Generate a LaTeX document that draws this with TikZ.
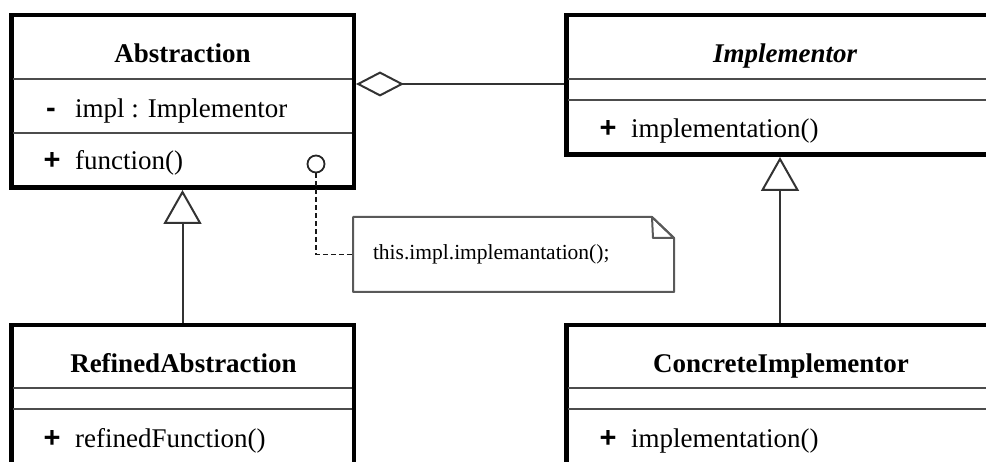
\documentclass[tikz,border=0pt]{standalone}
\usepackage{fontspec}
\setmainfont{Liberation Serif}
\setsansfont{Liberation Sans}
\usetikzlibrary{arrows.meta,positioning}

\begin{document}
\begin{tikzpicture}[
    x=1pt, y=-1pt,
    classbox/.style={rectangle, draw=black, line width=4.5pt, inner sep=0pt},
    divider/.style={draw=black!70, line width=2pt, shorten <=4pt, shorten >=4pt},
    title/.style={anchor=base, inner sep=0pt, font=\fontsize{27}{30}\selectfont\bfseries},
    member/.style={anchor=base west, inner sep=0pt, font=\fontsize{27}{30}\selectfont},
    sign/.style={anchor=base, inner sep=0pt, font=\fontsize{29}{30}\selectfont\sffamily\bfseries},
    link/.style={draw=black!80, line width=2pt},
    notebox/.style={draw=black!65, line width=2pt, line join=round},
    notelink/.style={draw=black!90, line width=1.8pt, dash pattern=on 5pt off 3pt}
]
    \useasboundingbox (0,0) rectangle (986,462);

    \node[classbox, minimum width=342.5pt, minimum height=172.5pt] (abstraction) at (182.5,101.5) {};
    \node[classbox, minimum width=427.5pt, minimum height=139.5pt] (implementor) at (780,85) {};
    \node[classbox, minimum width=342.5pt, minimum height=232.5pt] (refined) at (182.5,441.5) {};
    \node[classbox, minimum width=427.5pt, minimum height=232.5pt] (concrete) at (780,441.5) {};

    \draw[divider] ([shift={(0,66)}]abstraction.north west) -- ([shift={(0,66)}]abstraction.north east);
    \draw[divider] ([shift={(0,120)}]abstraction.north west) -- ([shift={(0,120)}]abstraction.north east);
    \draw[divider] ([shift={(0,66)}]implementor.north west) -- ([shift={(0,66)}]implementor.north east);
    \draw[divider] ([shift={(0,87)}]implementor.north west) -- ([shift={(0,87)}]implementor.north east);
    \draw[divider] ([shift={(0,65)}]refined.north west) -- ([shift={(0,65)}]refined.north east);
    \draw[divider] ([shift={(0,86)}]refined.north west) -- ([shift={(0,86)}]refined.north east);
    \draw[divider] ([shift={(0,65)}]concrete.north west) -- ([shift={(0,65)}]concrete.north east);
    \draw[divider] ([shift={(0,86)}]concrete.north west) -- ([shift={(0,86)}]concrete.north east);

    \node[title] (abstractionname) at (182.5,63) {Abstraction};
    \node[sign] (implsign) at (51,118) {-};
    \node[member] (impl) at (75,118) {impl : Implementor};
    \node[sign] (functionsign) at (52,170) {+};
    \node[member] (function) at (75,170) {function()};

    \node[title, font=\fontsize{27}{30}\selectfont\bfseries\itshape] (implementorname) at (785,63) {Implementor};
    \node[sign] (implementationsign) at (608,138) {+};
    \node[member] (implementation) at (631,138) {implementation()};

    \node[title] (refinedname) at (183.5,373) {RefinedAbstraction};
    \node[sign] (refinedsign) at (52,447) {+};
    \node[member] (refinedfunction) at (75,447) {refinedFunction()};

    \node[title] (concretename) at (781,373) {ConcreteImplementor};
    \node[sign] (concretesign) at (608,447) {+};
    \node[member] (concreteimplementation) at (631,447) {implementation()};

    \node[circle, draw=black!85, line width=1.8pt, minimum size=17pt, inner sep=0pt] (hook) at (316,164) {};
    \node[anchor=west, outer sep=0pt, inner xsep=20pt, text width=281pt, align=left, minimum height=75pt,
          font=\fontsize{21.5}{25}\selectfont] (memo) at (353,254.5) {this.impl.implemantation();};
    \draw[notebox] (memo.north west) -- ([xshift=-22pt]memo.north east) -- ([yshift=-21pt]memo.north east)
        -- (memo.south east) -- (memo.south west) -- cycle;
    \draw[notebox] ([xshift=-22pt]memo.north east) -- ++(1,21) -- ([yshift=-21pt]memo.north east) -- cycle;

    \draw[link, {Diamond[open, length=48pt, width=25pt]}-] ([yshift=17.5pt]abstraction.east) -- ([yshift=17.5pt]abstraction.east -| implementor.west);
    \draw[link, -{Triangle[open, length=34pt, width=38pt]}] (refined.north) -- (abstraction.south);
    \draw[link, -{Triangle[open, length=34pt, width=38pt]}] (concrete.north) -- (implementor.south);
    \draw[notelink] (hook.south) |- (memo.west);
\end{tikzpicture}
\end{document}
